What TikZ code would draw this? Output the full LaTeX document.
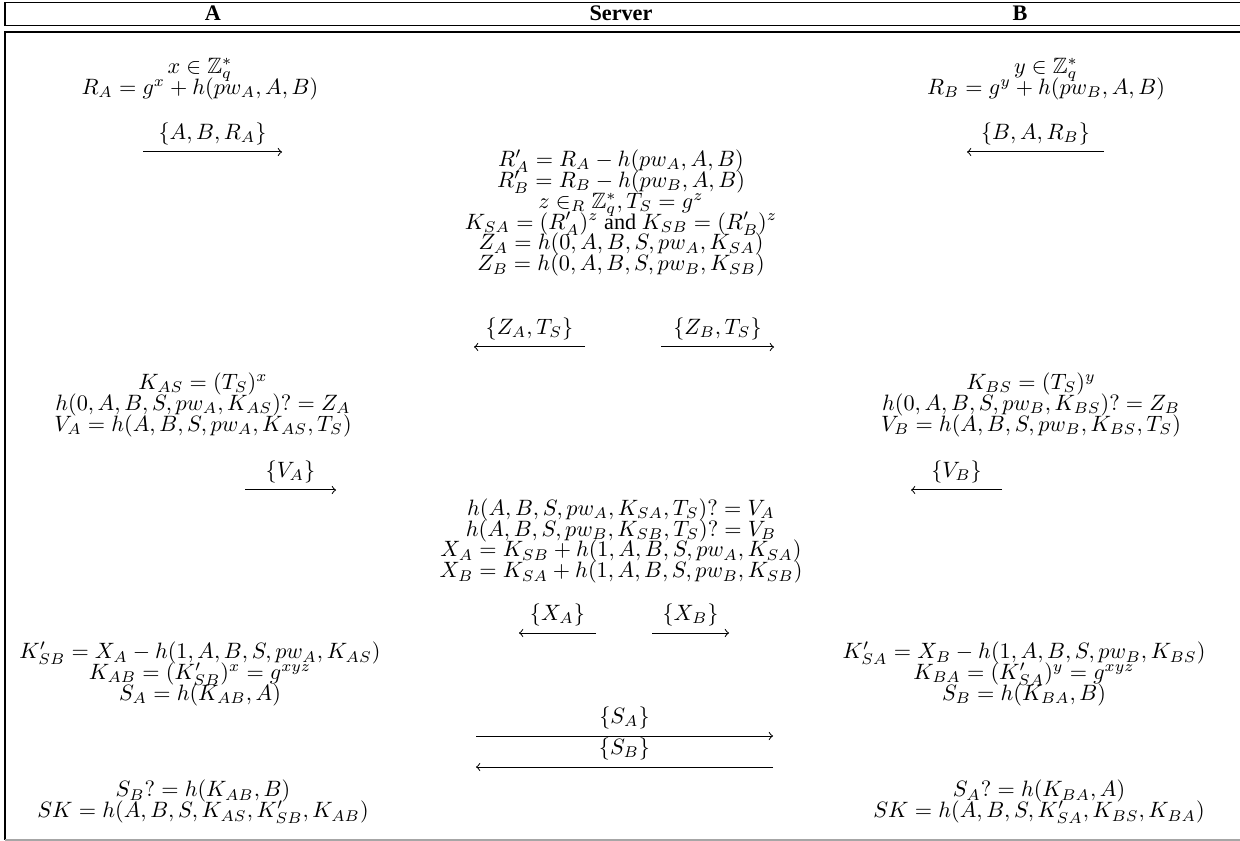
\documentclass[tikz,border=0pt]{standalone}
\usepackage{amssymb}
\usepackage[no-math]{fontspec}
\setmainfont{Liberation Serif}
\newcommand{\mytightlines}{\lineskiplimit=-20pt\relax\lineskip=0pt\relax}
\tikzset{
  eqs/.style={align=center, inner sep=0pt, font=\fontsize{10}{9.4}\selectfont\mytightlines},
  hdr/.style={font=\fontsize{10}{12}\selectfont\bfseries, inner sep=0pt},
  msg/.style={->, line width=0.45pt},
  lbl/.style={above, inner sep=3pt, font=\fontsize{10}{12}\selectfont},
  frame/.style={line width=0.8pt}
}
\begin{document}
\begin{tikzpicture}[x=0.45pt,y=-0.45pt]
\useasboundingbox (0,0) rectangle (1240,841);
% header
\draw[frame] (1245,2.5) -- (5,2.5) -- (5,25.5) -- (1245,25.5);
\node[hdr] (hA) at (213,13.5) {A};
\node[hdr] (hS) at (621,13.5) {Server};
\node[hdr] (hB) at (1020,13.5) {B};
% body frame
\draw[frame] (1245,32) -- (5,32) -- (5,840);
\draw[line width=0.8pt, black!35] (5,840) -- (1245,840);

% block 1
\node[eqs] (a1) at (200,79) {$x\in\mathbb{Z}_q^*$\\ $R_A=g^x+h(pw_A,A,B)$};
\node[eqs] (b1) at (1046,79) {$y\in\mathbb{Z}_q^*$\\ $R_B=g^y+h(pw_B,A,B)$};
\coordinate (m1s) at (143,152); \coordinate (m1e) at (282,152);
\draw[msg] (m1s) -- node[lbl] (m1l) {$\{A,B,R_A\}$} (m1e);
\coordinate (m2s) at (1104,152); \coordinate (m2e) at (967,152);
\draw[msg] (m2s) -- node[lbl] (m2l) {$\{B,A,R_B\}$} (m2e);

\node[eqs] (s1) at (621,213) {$R'_A=R_A-h(pw_A,A,B)$\\ $R'_B=R_B-h(pw_B,A,B)$\\ $z\in_R\mathbb{Z}_q^*,T_S=g^z$\\ $K_{SA}=(R'_A)^z$ and $K_{SB}=(R'_B)^z$\\ $Z_A=h(0,A,B,S,pw_A,K_{SA})$\\ $Z_B=h(0,A,B,S,pw_B,K_{SB})$};
\coordinate (m3s) at (585,347); \coordinate (m3e) at (474,347);
\draw[msg] (m3s) -- node[lbl] (m3l) {$\{Z_A,T_S\}$} (m3e);
\coordinate (m4s) at (661,347); \coordinate (m4e) at (774,347);
\draw[msg] (m4s) -- node[lbl] (m4l) {$\{Z_B,T_S\}$} (m4e);

% block 2
\node[eqs] (a2) at (203,405) {$K_{AS}=(T_S)^x$\\ $h(0,A,B,S,pw_A,K_{AS})?=Z_A$\\ $V_A=h(A,B,S,pw_A,K_{AS},T_S)$};
\node[eqs] (b2) at (1031,405) {$K_{BS}=(T_S)^y$\\ $h(0,A,B,S,pw_B,K_{BS})?=Z_B$\\ $V_B=h(A,B,S,pw_B,K_{BS},T_S)$};
\coordinate (m5s) at (245,490); \coordinate (m5e) at (336,490);
\draw[msg] (m5s) -- node[lbl] (m5l) {$\{V_A\}$} (m5e);
\coordinate (m6s) at (1002,490); \coordinate (m6e) at (911,490);
\draw[msg] (m6s) -- node[lbl] (m6l) {$\{V_B\}$} (m6e);

\node[eqs] (s2) at (621,541) {$h(A,B,S,pw_A,K_{SA},T_S)?=V_A$\\ $h(A,B,S,pw_B,K_{SB},T_S)?=V_B$\\ $X_A=K_{SB}+h(1,A,B,S,pw_A,K_{SA})$\\ $X_B=K_{SA}+h(1,A,B,S,pw_B,K_{SB})$};
\coordinate (m7s) at (596,633); \coordinate (m7e) at (519,633);
\draw[msg] (m7s) -- node[lbl] (m7l) {$\{X_A\}$} (m7e);
\coordinate (m8s) at (652,633); \coordinate (m8e) at (729,633);
\draw[msg] (m8s) -- node[lbl] (m8l) {$\{X_B\}$} (m8e);

% block 3
\node[eqs] (a3) at (200,674) {$K'_{SB}=X_A-h(1,A,B,S,pw_A,K_{AS})$\\ $K_{AB}=(K'_{SB})^x=g^{xyz}$\\ $S_A=h(K_{AB},A)$};
\node[eqs] (b3) at (1024,674) {$K'_{SA}=X_B-h(1,A,B,S,pw_B,K_{BS})$\\ $K_{BA}=(K'_{SA})^y=g^{xyz}$\\ $S_B=h(K_{BA},B)$};
\coordinate (m9s) at (476,736); \coordinate (m9e) at (773,736);
\draw[msg] (m9s) -- node[lbl] (m9l) {$\{S_A\}$} (m9e);
\coordinate (m10s) at (773,767); \coordinate (m10e) at (476,767);
\draw[msg] (m10s) -- node[lbl] (m10l) {$\{S_B\}$} (m10e);

% block 4
\node[eqs] (a4) at (203,802) {$S_B?=h(K_{AB},B)$\\ $SK=h(A,B,S,K_{AS},K'_{SB},K_{AB})$};
\node[eqs] (b4) at (1039,802) {$S_A?=h(K_{BA},A)$\\ $SK=h(A,B,S,K'_{SA},K_{BS},K_{BA})$};
\end{tikzpicture}
\end{document}
